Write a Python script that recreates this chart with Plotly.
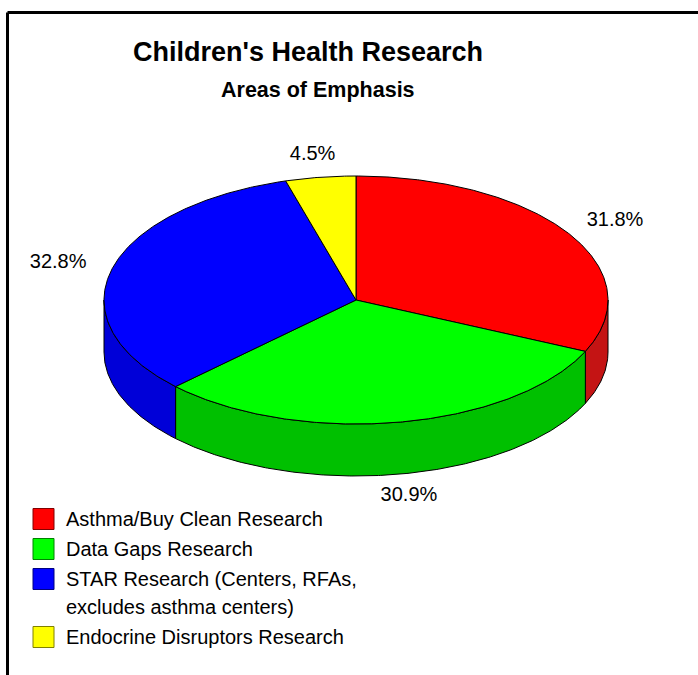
import numpy as np
import plotly.graph_objects as go

# ---- data ----
categories = ["Asthma/Buy Clean Research", "Data Gaps Research",
              "STAR Research (Centers, RFAs,<br>excludes asthma centers)",
              "Endocrine Disruptors Research"]
shares = [31.8, 30.9, 32.8, 4.5]
top_colors = ["#FF0000", "#00FF00", "#0000FF", "#FFFF00"]
side_colors = ["#C41414", "#00C000", "#0000D8", "#C8C800"]
legend_borders = ["#800000", "#008000", "#000080", "#808000"]
title_text = "Children's Health Research"
subtitle_text = "Areas of Emphasis"

# ---- geometry (pixel space) ----
W, H = 698, 675
cx, cy, rx, ry, depth = 356, 300, 252, 124, 52
FONT = "Liberation Sans, Arial, sans-serif"

def pt(a_deg, dy=0.0):
    a = np.radians(a_deg)
    return cx + rx * np.sin(a), cy - ry * np.cos(a) + dy

total = sum(shares)
bounds = np.concatenate([[0], np.cumsum(shares) / total * 360])

fig = go.Figure()

# side walls (front half only: 90..270 deg clockwise from top)
for i in range(len(shares)):
    a0, a1 = max(bounds[i], 90), min(bounds[i + 1], 270)
    if a1 <= a0:
        continue
    ang = np.linspace(a0, a1, max(int((a1 - a0) * 2), 2))
    xt, yt = pt(ang)
    xb, yb = pt(ang[::-1], depth)
    xs = np.concatenate([xt, xb, xt[:1]])
    ys = np.concatenate([yt, yb, yt[:1]])
    fig.add_trace(go.Scatter(x=xs, y=ys, mode="lines", fill="toself",
                             fillcolor=side_colors[i],
                             line=dict(color="black", width=1),
                             hoverinfo="skip", showlegend=False))

# top faces
for i in range(len(shares)):
    a0, a1 = bounds[i], bounds[i + 1]
    ang = np.linspace(a0, a1, max(int((a1 - a0) * 2), 2))
    xa, ya = pt(ang)
    xs = np.concatenate([[cx], xa, [cx]])
    ys = np.concatenate([[cy], ya, [cy]])
    fig.add_trace(go.Scatter(x=xs, y=ys, mode="lines", fill="toself",
                             fillcolor=top_colors[i],
                             line=dict(color="black", width=1),
                             name=categories[i].replace("<br>", " "),
                             hoverinfo="name", showlegend=False))

# percentage labels
lx, ly = 308, 146
mids = (bounds[:-1] + bounds[1:]) / 2
lab_x, lab_y, lab_t = [], [], []
for i, m in enumerate(mids):
    a = np.radians(m)
    lab_x.append(cx + lx * np.sin(a))
    lab_y.append(cy - ly * np.cos(a) + (depth if np.cos(a) < 0 else 0))
    lab_t.append(f"{shares[i] / total * 100:.1f}%")
fig.add_trace(go.Scatter(x=lab_x, y=lab_y, text=lab_t, mode="text",
                         textposition="middle center",
                         textfont=dict(family=FONT, size=20, color="black"),
                         hoverinfo="skip", showlegend=False))

shapes = [
    dict(type="line", xref="x", yref="y", x0=7.5, y0=12.5, x1=W, y1=12.5,
         line=dict(color="black", width=3)),
    dict(type="line", xref="x", yref="y", x0=7.5, y0=12.5, x1=7.5, y1=H,
         line=dict(color="black", width=3)),
]
annotations = [
    dict(x=308, y=52, xref="x", yref="y", text=title_text, showarrow=False,
         font=dict(family=FONT, size=27, color="black", weight="bold"),
         xanchor="center", yanchor="middle"),
    dict(x=318, y=90, xref="x", yref="y", text=subtitle_text, showarrow=False,
         font=dict(family=FONT, size=21.5, color="black", weight="bold"),
         xanchor="center", yanchor="middle"),
]

# legend (drawn manually to match the square swatches)
yrow = 519
for i, cat in enumerate(categories):
    lines = cat.split("<br>")
    shapes.append(dict(type="rect", xref="x", yref="y", x0=33, x1=54,
                       y0=yrow - 10.5, y1=yrow + 10.5,
                       fillcolor=top_colors[i],
                       line=dict(color=legend_borders[i], width=1)))
    for k, ln in enumerate(lines):
        annotations.append(dict(x=64, y=yrow + 28 * k, xref="x", yref="y",
                                text=ln, showarrow=False,
                                font=dict(family=FONT, size=20, color="black"),
                                xanchor="left", yanchor="middle"))
    yrow += 30 + 28 * (len(lines) - 1)

fig.update_layout(
    width=W, height=H,
    margin=dict(l=0, r=0, t=0, b=0, pad=0),
    paper_bgcolor="white", plot_bgcolor="white",
    xaxis=dict(range=[0, W], visible=False, fixedrange=True),
    yaxis=dict(range=[H, 0], visible=False, fixedrange=True),
    shapes=shapes, annotations=annotations,
    showlegend=False,
)

fig.write_html("out.html")
